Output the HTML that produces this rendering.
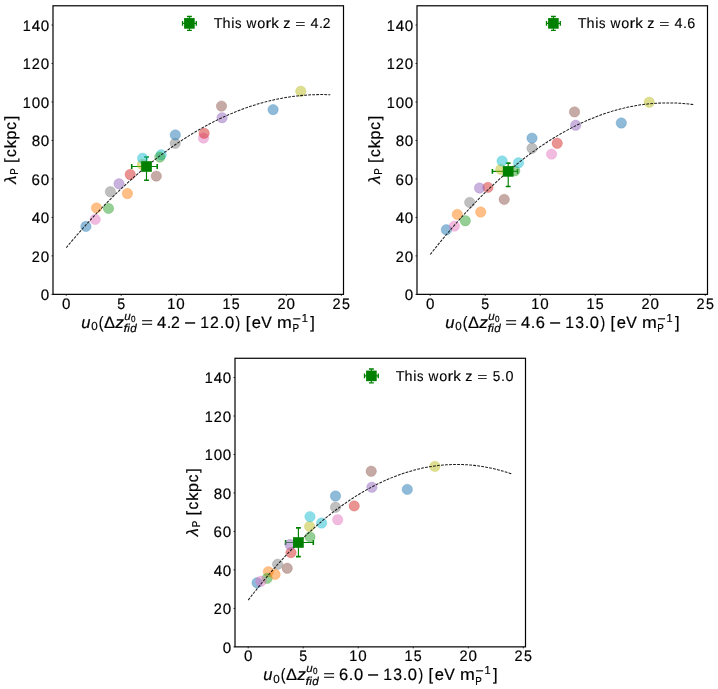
<!DOCTYPE html>
<html><head><meta charset="utf-8"><style>
html,body{margin:0;padding:0;background:#fff;}
svg{display:block;filter:blur(0.35px);}
</style></head><body>
<svg width="718" height="689" viewBox="0 0 718 689">
<rect width="718" height="689" fill="#fff"/>
<g stroke="#008000" fill="none"><path stroke-width="1.15" d="M131.7,166.5 H157.2 M146.5,157 V180.2"/><path stroke-width="1.6" d="M131.7,164.1 v4.8 M157.2,164.1 v4.8 M144.1,157 h4.8 M144.1,180.2 h4.8"/></g>
<circle cx="85.9" cy="226.4" r="5.2" fill="#1f77b4" fill-opacity="0.5" stroke="#1f77b4" stroke-opacity="0.5" stroke-width="0.5"/>
<circle cx="96.5" cy="207.9" r="5.2" fill="#ff7f0e" fill-opacity="0.5" stroke="#ff7f0e" stroke-opacity="0.5" stroke-width="0.5"/>
<circle cx="108.5" cy="208.4" r="5.2" fill="#2ca02c" fill-opacity="0.5" stroke="#2ca02c" stroke-opacity="0.5" stroke-width="0.5"/>
<circle cx="130.2" cy="174.5" r="5.2" fill="#d62728" fill-opacity="0.5" stroke="#d62728" stroke-opacity="0.5" stroke-width="0.5"/>
<circle cx="119" cy="183.8" r="5.2" fill="#9467bd" fill-opacity="0.5" stroke="#9467bd" stroke-opacity="0.5" stroke-width="0.5"/>
<circle cx="156.3" cy="176.1" r="5.2" fill="#8c564b" fill-opacity="0.5" stroke="#8c564b" stroke-opacity="0.5" stroke-width="0.5"/>
<circle cx="203.5" cy="138.1" r="5.2" fill="#e377c2" fill-opacity="0.5" stroke="#e377c2" stroke-opacity="0.5" stroke-width="0.5"/>
<circle cx="175.2" cy="143.4" r="5.2" fill="#7f7f7f" fill-opacity="0.5" stroke="#7f7f7f" stroke-opacity="0.5" stroke-width="0.5"/>
<circle cx="142.4" cy="164.5" r="5.2" fill="#bcbd22" fill-opacity="0.5" stroke="#bcbd22" stroke-opacity="0.5" stroke-width="0.5"/>
<circle cx="161.2" cy="154.8" r="5.2" fill="#17becf" fill-opacity="0.5" stroke="#17becf" stroke-opacity="0.5" stroke-width="0.5"/>
<circle cx="127.4" cy="193.5" r="5.2" fill="#ff7f0e" fill-opacity="0.5" stroke="#ff7f0e" stroke-opacity="0.5" stroke-width="0.5"/>
<circle cx="159.8" cy="157.1" r="5.2" fill="#2ca02c" fill-opacity="0.5" stroke="#2ca02c" stroke-opacity="0.5" stroke-width="0.5"/>
<circle cx="204.1" cy="133.2" r="5.2" fill="#d62728" fill-opacity="0.5" stroke="#d62728" stroke-opacity="0.5" stroke-width="0.5"/>
<circle cx="222.1" cy="117.7" r="5.2" fill="#9467bd" fill-opacity="0.5" stroke="#9467bd" stroke-opacity="0.5" stroke-width="0.5"/>
<circle cx="221.5" cy="106.1" r="5.2" fill="#8c564b" fill-opacity="0.5" stroke="#8c564b" stroke-opacity="0.5" stroke-width="0.5"/>
<circle cx="95.2" cy="219.4" r="5.2" fill="#e377c2" fill-opacity="0.5" stroke="#e377c2" stroke-opacity="0.5" stroke-width="0.5"/>
<circle cx="110.4" cy="191.7" r="5.2" fill="#7f7f7f" fill-opacity="0.5" stroke="#7f7f7f" stroke-opacity="0.5" stroke-width="0.5"/>
<circle cx="300.8" cy="91.3" r="5.2" fill="#bcbd22" fill-opacity="0.5" stroke="#bcbd22" stroke-opacity="0.5" stroke-width="0.5"/>
<circle cx="142.6" cy="158.3" r="5.2" fill="#17becf" fill-opacity="0.5" stroke="#17becf" stroke-opacity="0.5" stroke-width="0.5"/>
<circle cx="273.1" cy="109.6" r="5.2" fill="#1f77b4" fill-opacity="0.5" stroke="#1f77b4" stroke-opacity="0.5" stroke-width="0.5"/>
<circle cx="175.3" cy="134.9" r="5.2" fill="#1f77b4" fill-opacity="0.5" stroke="#1f77b4" stroke-opacity="0.5" stroke-width="0.5"/>
<path d="M66.2,247.72 L68.96,244.43 L71.71,241.18 L74.46,237.96 L77.21,234.78 L79.96,231.64 L82.71,228.53 L85.46,225.45 L88.21,222.42 L90.96,219.41 L93.71,216.45 L96.46,213.52 L99.22,210.62 L101.97,207.76 L104.72,204.94 L107.47,202.15 L110.22,199.4 L112.97,196.68 L115.72,194 L118.47,191.35 L121.22,188.74 L123.97,186.17 L126.73,183.63 L129.48,181.13 L132.23,178.66 L134.98,176.23 L137.73,173.83 L140.48,171.47 L143.23,169.15 L145.98,166.86 L148.73,164.6 L151.48,162.39 L154.23,160.21 L156.99,158.06 L159.74,155.95 L162.49,153.87 L165.24,151.83 L167.99,149.83 L170.74,147.86 L173.49,145.93 L176.24,144.04 L178.99,142.17 L181.74,140.35 L184.5,138.56 L187.25,136.81 L190,135.09 L192.75,133.41 L195.5,131.76 L198.25,130.15 L201,128.57 L203.75,127.03 L206.5,125.53 L209.25,124.06 L212,122.63 L214.76,121.23 L217.51,119.87 L220.26,118.55 L223.01,117.26 L225.76,116 L228.51,114.78 L231.26,113.6 L234.01,112.45 L236.76,111.34 L239.51,110.27 L242.27,109.23 L245.02,108.22 L247.77,107.25 L250.52,106.32 L253.27,105.42 L256.02,104.56 L258.77,103.73 L261.52,102.94 L264.27,102.19 L267.02,101.47 L269.77,100.79 L272.53,100.14 L275.28,99.53 L278.03,98.95 L280.78,98.41 L283.53,97.91 L286.28,97.44 L289.03,97 L291.78,96.61 L294.53,96.24 L297.28,95.92 L300.04,95.63 L302.79,95.37 L305.54,95.15 L308.29,94.97 L311.04,94.82 L313.79,94.71 L316.54,94.63 L319.29,94.59 L322.04,94.58 L324.79,94.61 L327.54,94.68 L330.3,94.78" fill="none" stroke="#1c1c1c" stroke-width="1.02" stroke-dasharray="2.82 1.21"/>
<rect x="141.15" y="161.2" width="10.7" height="10.6" fill="#008000"/>
<rect x="53" y="5.78" width="290.5" height="288.58" fill="none" stroke="#000" stroke-width="1.2"/>
<path d="M51.5,294.36 H53" stroke="#000" stroke-width="0.8"/>
<path d="M51.5,255.88 H53" stroke="#000" stroke-width="0.8"/>
<path d="M51.5,217.41 H53" stroke="#000" stroke-width="0.8"/>
<path d="M51.5,178.93 H53" stroke="#000" stroke-width="0.8"/>
<path d="M51.5,140.45 H53" stroke="#000" stroke-width="0.8"/>
<path d="M51.5,101.97 H53" stroke="#000" stroke-width="0.8"/>
<path d="M51.5,63.5 H53" stroke="#000" stroke-width="0.8"/>
<path d="M51.5,25.02 H53" stroke="#000" stroke-width="0.8"/>
<path d="M66.2,294.36 V295.86" stroke="#000" stroke-width="0.8"/>
<path d="M121.22,294.36 V295.86" stroke="#000" stroke-width="0.8"/>
<path d="M176.24,294.36 V295.86" stroke="#000" stroke-width="0.8"/>
<path d="M231.26,294.36 V295.86" stroke="#000" stroke-width="0.8"/>
<path d="M286.28,294.36 V295.86" stroke="#000" stroke-width="0.8"/>
<path d="M341.3,294.36 V295.86" stroke="#000" stroke-width="0.8"/>
<g stroke="#008000" fill="none"><path stroke-width="1.1" d="M182.5,23.38 H196.3 M189.4,16.48 V30.28"/><path stroke-width="1.3" d="M182.5,20.93 v4.9 M196.3,20.93 v4.9 M186.95,16.48 h4.9 M186.95,30.28 h4.9"/></g>
<rect x="184.1" y="18.08" width="10.6" height="10.6" fill="#008000"/>
<g font-family="Liberation Sans, sans-serif" fill="#000" stroke="#000" stroke-width="0.2" text-rendering="geometricPrecision"><text x="40.81" y="300.06" font-size="15.15">0</text>
<text transform="matrix(0.959 0 0 1.000 31.67 261.58)" font-size="15.15">2</text>
<text x="40.81" y="261.58" font-size="15.15">0</text>
<text x="31.71" y="223.11" font-size="15.15">4</text>
<text x="40.81" y="223.11" font-size="15.15">0</text>
<text x="31.56" y="184.63" font-size="15.15">6</text>
<text x="40.81" y="184.63" font-size="15.15">0</text>
<text x="31.66" y="146.15" font-size="15.15">8</text>
<text x="40.81" y="146.15" font-size="15.15">0</text>
<text transform="matrix(0.950 0 0 1.000 22.73 107.67)" font-size="15.15">1</text>
<text x="31.71" y="107.67" font-size="15.15">0</text>
<text x="40.81" y="107.67" font-size="15.15">0</text>
<text transform="matrix(0.950 0 0 1.000 22.73 69.2)" font-size="15.15">1</text>
<text transform="matrix(0.959 0 0 1.000 31.67 69.2)" font-size="15.15">2</text>
<text x="40.81" y="69.2" font-size="15.15">0</text>
<text transform="matrix(0.950 0 0 1.000 22.73 30.72)" font-size="15.15">1</text>
<text x="31.71" y="30.72" font-size="15.15">4</text>
<text x="40.81" y="30.72" font-size="15.15">0</text>
<text x="62.01" y="308.51" font-size="15.15">0</text>
<text transform="matrix(0.939 0 0 1.000 117.28 308.51)" font-size="15.15">5</text>
<text transform="matrix(0.950 0 0 1.000 167.31 308.51)" font-size="15.15">1</text>
<text x="176.29" y="308.51" font-size="15.15">0</text>
<text transform="matrix(0.950 0 0 1.000 222.48 308.51)" font-size="15.15">1</text>
<text transform="matrix(0.939 0 0 1.000 231.63 308.51)" font-size="15.15">5</text>
<text transform="matrix(0.959 0 0 1.000 277.45 308.51)" font-size="15.15">2</text>
<text x="286.59" y="308.51" font-size="15.15">0</text>
<text transform="matrix(0.959 0 0 1.000 332.62 308.51)" font-size="15.15">2</text>
<text transform="matrix(0.939 0 0 1.000 341.93 308.51)" font-size="15.15">5</text>
<g stroke-width="0.12"><text x="213.67" y="28.38" font-size="14.36">T</text>
<text x="222.53" y="28.38" font-size="14.36">h</text>
<text x="231.25" y="28.38" font-size="14.36">i</text>
<text transform="matrix(0.905 0 0 1.000 235.04 28.38)" font-size="14.36">s</text>
<text transform="matrix(0.954 0 0 1.000 246.62 28.38)" font-size="14.36">w</text>
<text x="257.26" y="28.38" font-size="14.36">o</text>
<text transform="matrix(1.209 0 0 1.000 265.49 28.38)" font-size="14.36">r</text>
<text transform="matrix(1.055 0 0 1.000 271.19 28.38)" font-size="14.36">k</text>
<text x="283.13" y="28.38" font-size="14.36">z</text>
<text transform="matrix(1.216 0 0 0.827 295.14 28.04)" font-size="14.36">=</text>
<text x="310.55" y="28.38" font-size="14.36">4</text>
<text x="318.94" y="28.38" font-size="14.36">.</text>
<text transform="matrix(0.959 0 0 1.000 322.7 28.38)" font-size="14.36">2</text></g>
<text x="81.29" y="327.81" font-size="16.53" font-style="italic">u</text>
<text x="91.26" y="330.37" font-size="11.57">0</text>
<text transform="matrix(0.850 0 0 1.000 98.72 327.81)" font-size="16.53">(</text>
<text x="104.06" y="327.81" font-size="16.53">Δ</text>
<text transform="matrix(1.047 0 0 1.000 115.17 327.81)" font-size="16.53" font-style="italic">z</text>
<text x="124.13" y="319.93" font-size="11.57" font-style="italic">u</text>
<text transform="matrix(0.904 0 0 1.000 131.11 321.72)" font-size="8.91">0</text>
<text transform="matrix(1.171 0 0 1.000 123.59 332.07)" font-size="11.57" font-style="italic">f</text>
<text x="127.35" y="332.07" font-size="11.57" font-style="italic">i</text>
<text x="130.29" y="332.07" font-size="11.57" font-style="italic">d</text>
<text transform="matrix(1.216 0 0 0.827 141.25 327.42)" font-size="16.53">=</text>
<text x="157.08" y="327.81" font-size="16.53">4</text>
<text x="166.75" y="327.81" font-size="16.53">.</text>
<text transform="matrix(0.959 0 0 1.000 171.07 327.81)" font-size="16.53">2</text>
<text transform="matrix(1.216 0 0 1.099 184.35 328.96)" font-size="16.53">−</text>
<text transform="matrix(0.950 0 0 1.000 200.31 327.81)" font-size="16.53">1</text>
<text transform="matrix(0.959 0 0 1.000 210.07 327.81)" font-size="16.53">2</text>
<text x="219.77" y="327.81" font-size="16.53">.</text>
<text x="224.99" y="327.81" font-size="16.53">0</text>
<text transform="matrix(0.850 0 0 1.000 235.58 327.81)" font-size="16.53">)</text>
<text x="245.76" y="327.81" font-size="16.53">[</text>
<text x="251.8" y="327.81" font-size="16.53">e</text>
<text transform="matrix(0.958 0 0 1.000 261.31 327.81)" font-size="16.53">V</text>
<text transform="matrix(1.075 0 0 1.000 277.12 327.81)" font-size="16.53">m</text>
<text transform="matrix(1.216 0 0 1.099 292.7 322.64)" font-size="11.57">−</text>
<text transform="matrix(0.950 0 0 1.000 301.75 321.84)" font-size="11.57">1</text>
<text transform="matrix(0.850 0 0 1.000 292.45 332.07)" font-size="11.57">P</text>
<text x="310.15" y="327.81" font-size="16.53">]</text>
<g transform="translate(15.9,184.62) rotate(-90)"><text x="0.77" y="0" font-size="16.26" font-style="italic">λ</text>
<text transform="matrix(0.850 0 0 1.000 9.97 2.52)" font-size="11.39">P</text>
<text x="21.72" y="0" font-size="16.26">[</text>
<text transform="matrix(0.947 0 0 1.000 27.72 0)" font-size="16.26">c</text>
<text transform="matrix(1.055 0 0 1.000 36.2 0)" font-size="16.26">k</text>
<text x="45.17" y="0" font-size="16.26">p</text>
<text transform="matrix(0.947 0 0 1.000 54.79 0)" font-size="16.26">c</text>
<text x="64.4" y="0" font-size="16.26">]</text></g></g>
<g stroke="#008000" fill="none"><path stroke-width="1.15" d="M492.4,171.4 H517.5 M508.2,163.1 V186.5"/><path stroke-width="1.6" d="M492.4,169 v4.8 M517.5,169 v4.8 M505.8,163.1 h4.8 M505.8,186.5 h4.8"/></g>
<circle cx="446.4" cy="229.7" r="5.2" fill="#1f77b4" fill-opacity="0.5" stroke="#1f77b4" stroke-opacity="0.5" stroke-width="0.5"/>
<circle cx="457.3" cy="214.4" r="5.2" fill="#ff7f0e" fill-opacity="0.5" stroke="#ff7f0e" stroke-opacity="0.5" stroke-width="0.5"/>
<circle cx="465.3" cy="220.7" r="5.2" fill="#2ca02c" fill-opacity="0.5" stroke="#2ca02c" stroke-opacity="0.5" stroke-width="0.5"/>
<circle cx="487.9" cy="187.4" r="5.2" fill="#d62728" fill-opacity="0.5" stroke="#d62728" stroke-opacity="0.5" stroke-width="0.5"/>
<circle cx="479.5" cy="188" r="5.2" fill="#9467bd" fill-opacity="0.5" stroke="#9467bd" stroke-opacity="0.5" stroke-width="0.5"/>
<circle cx="504.2" cy="199.4" r="5.2" fill="#8c564b" fill-opacity="0.5" stroke="#8c564b" stroke-opacity="0.5" stroke-width="0.5"/>
<circle cx="454.4" cy="226.1" r="5.2" fill="#e377c2" fill-opacity="0.5" stroke="#e377c2" stroke-opacity="0.5" stroke-width="0.5"/>
<circle cx="469.7" cy="202.4" r="5.2" fill="#7f7f7f" fill-opacity="0.5" stroke="#7f7f7f" stroke-opacity="0.5" stroke-width="0.5"/>
<circle cx="500.8" cy="169.4" r="5.2" fill="#bcbd22" fill-opacity="0.5" stroke="#bcbd22" stroke-opacity="0.5" stroke-width="0.5"/>
<circle cx="502.1" cy="160.9" r="5.2" fill="#17becf" fill-opacity="0.5" stroke="#17becf" stroke-opacity="0.5" stroke-width="0.5"/>
<circle cx="532" cy="138.1" r="5.2" fill="#1f77b4" fill-opacity="0.5" stroke="#1f77b4" stroke-opacity="0.5" stroke-width="0.5"/>
<circle cx="480.7" cy="212" r="5.2" fill="#ff7f0e" fill-opacity="0.5" stroke="#ff7f0e" stroke-opacity="0.5" stroke-width="0.5"/>
<circle cx="514.8" cy="170.8" r="5.2" fill="#2ca02c" fill-opacity="0.5" stroke="#2ca02c" stroke-opacity="0.5" stroke-width="0.5"/>
<circle cx="557.2" cy="143.3" r="5.2" fill="#d62728" fill-opacity="0.5" stroke="#d62728" stroke-opacity="0.5" stroke-width="0.5"/>
<circle cx="575.7" cy="125.2" r="5.2" fill="#9467bd" fill-opacity="0.5" stroke="#9467bd" stroke-opacity="0.5" stroke-width="0.5"/>
<circle cx="574.5" cy="111.9" r="5.2" fill="#8c564b" fill-opacity="0.5" stroke="#8c564b" stroke-opacity="0.5" stroke-width="0.5"/>
<circle cx="551.6" cy="154.1" r="5.2" fill="#e377c2" fill-opacity="0.5" stroke="#e377c2" stroke-opacity="0.5" stroke-width="0.5"/>
<circle cx="532" cy="148.3" r="5.2" fill="#7f7f7f" fill-opacity="0.5" stroke="#7f7f7f" stroke-opacity="0.5" stroke-width="0.5"/>
<circle cx="649.2" cy="102.3" r="5.2" fill="#bcbd22" fill-opacity="0.5" stroke="#bcbd22" stroke-opacity="0.5" stroke-width="0.5"/>
<circle cx="518.5" cy="162.8" r="5.2" fill="#17becf" fill-opacity="0.5" stroke="#17becf" stroke-opacity="0.5" stroke-width="0.5"/>
<circle cx="621.3" cy="123" r="5.2" fill="#1f77b4" fill-opacity="0.5" stroke="#1f77b4" stroke-opacity="0.5" stroke-width="0.5"/>
<path d="M430.2,254.53 L432.96,251.04 L435.71,247.6 L438.46,244.19 L441.21,240.82 L443.96,237.5 L446.71,234.21 L449.46,230.97 L452.21,227.77 L454.96,224.6 L457.71,221.48 L460.46,218.4 L463.22,215.36 L465.97,212.35 L468.72,209.39 L471.47,206.47 L474.22,203.6 L476.97,200.76 L479.72,197.96 L482.47,195.2 L485.22,192.48 L487.97,189.81 L490.73,187.17 L493.48,184.58 L496.23,182.02 L498.98,179.51 L501.73,177.03 L504.48,174.6 L507.23,172.21 L509.98,169.86 L512.73,167.55 L515.48,165.28 L518.23,163.05 L520.99,160.86 L523.74,158.71 L526.49,156.6 L529.24,154.53 L531.99,152.51 L534.74,150.52 L537.49,148.57 L540.24,146.67 L542.99,144.8 L545.74,142.98 L548.5,141.2 L551.25,139.45 L554,137.75 L556.75,136.09 L559.5,134.47 L562.25,132.89 L565,131.35 L567.75,129.85 L570.5,128.39 L573.25,126.97 L576,125.59 L578.76,124.25 L581.51,122.96 L584.26,121.7 L587.01,120.49 L589.76,119.31 L592.51,118.18 L595.26,117.08 L598.01,116.03 L600.76,115.02 L603.51,114.05 L606.27,113.11 L609.02,112.22 L611.77,111.37 L614.52,110.56 L617.27,109.8 L620.02,109.07 L622.77,108.38 L625.52,107.73 L628.27,107.12 L631.02,106.56 L633.77,106.03 L636.53,105.55 L639.28,105.1 L642.03,104.7 L644.78,104.34 L647.53,104.01 L650.28,103.73 L653.03,103.49 L655.78,103.29 L658.53,103.13 L661.28,103.01 L664.04,102.93 L666.79,102.89 L669.54,102.89 L672.29,102.94 L675.04,103.02 L677.79,103.14 L680.54,103.31 L683.29,103.51 L686.04,103.76 L688.79,104.04 L691.54,104.37 L694.3,104.74" fill="none" stroke="#1c1c1c" stroke-width="1.02" stroke-dasharray="2.82 1.21"/>
<rect x="502.85" y="166.1" width="10.7" height="10.6" fill="#008000"/>
<rect x="417" y="5.78" width="290.5" height="288.58" fill="none" stroke="#000" stroke-width="1.2"/>
<path d="M415.5,294.36 H417" stroke="#000" stroke-width="0.8"/>
<path d="M415.5,255.88 H417" stroke="#000" stroke-width="0.8"/>
<path d="M415.5,217.41 H417" stroke="#000" stroke-width="0.8"/>
<path d="M415.5,178.93 H417" stroke="#000" stroke-width="0.8"/>
<path d="M415.5,140.45 H417" stroke="#000" stroke-width="0.8"/>
<path d="M415.5,101.97 H417" stroke="#000" stroke-width="0.8"/>
<path d="M415.5,63.5 H417" stroke="#000" stroke-width="0.8"/>
<path d="M415.5,25.02 H417" stroke="#000" stroke-width="0.8"/>
<path d="M430.2,294.36 V295.86" stroke="#000" stroke-width="0.8"/>
<path d="M485.22,294.36 V295.86" stroke="#000" stroke-width="0.8"/>
<path d="M540.24,294.36 V295.86" stroke="#000" stroke-width="0.8"/>
<path d="M595.26,294.36 V295.86" stroke="#000" stroke-width="0.8"/>
<path d="M650.28,294.36 V295.86" stroke="#000" stroke-width="0.8"/>
<path d="M705.3,294.36 V295.86" stroke="#000" stroke-width="0.8"/>
<g stroke="#008000" fill="none"><path stroke-width="1.1" d="M546.5,23.38 H560.3 M553.4,16.48 V30.28"/><path stroke-width="1.3" d="M546.5,20.93 v4.9 M560.3,20.93 v4.9 M550.95,16.48 h4.9 M550.95,30.28 h4.9"/></g>
<rect x="548.1" y="18.08" width="10.6" height="10.6" fill="#008000"/>
<g font-family="Liberation Sans, sans-serif" fill="#000" stroke="#000" stroke-width="0.2" text-rendering="geometricPrecision"><text x="404.81" y="300.06" font-size="15.15">0</text>
<text transform="matrix(0.959 0 0 1.000 395.67 261.58)" font-size="15.15">2</text>
<text x="404.81" y="261.58" font-size="15.15">0</text>
<text x="395.71" y="223.11" font-size="15.15">4</text>
<text x="404.81" y="223.11" font-size="15.15">0</text>
<text x="395.56" y="184.63" font-size="15.15">6</text>
<text x="404.81" y="184.63" font-size="15.15">0</text>
<text x="395.66" y="146.15" font-size="15.15">8</text>
<text x="404.81" y="146.15" font-size="15.15">0</text>
<text transform="matrix(0.950 0 0 1.000 386.73 107.67)" font-size="15.15">1</text>
<text x="395.71" y="107.67" font-size="15.15">0</text>
<text x="404.81" y="107.67" font-size="15.15">0</text>
<text transform="matrix(0.950 0 0 1.000 386.73 69.2)" font-size="15.15">1</text>
<text transform="matrix(0.959 0 0 1.000 395.67 69.2)" font-size="15.15">2</text>
<text x="404.81" y="69.2" font-size="15.15">0</text>
<text transform="matrix(0.950 0 0 1.000 386.73 30.72)" font-size="15.15">1</text>
<text x="395.71" y="30.72" font-size="15.15">4</text>
<text x="404.81" y="30.72" font-size="15.15">0</text>
<text x="426.01" y="308.51" font-size="15.15">0</text>
<text transform="matrix(0.939 0 0 1.000 481.28 308.51)" font-size="15.15">5</text>
<text transform="matrix(0.950 0 0 1.000 531.31 308.51)" font-size="15.15">1</text>
<text x="540.29" y="308.51" font-size="15.15">0</text>
<text transform="matrix(0.950 0 0 1.000 586.48 308.51)" font-size="15.15">1</text>
<text transform="matrix(0.939 0 0 1.000 595.63 308.51)" font-size="15.15">5</text>
<text transform="matrix(0.959 0 0 1.000 641.45 308.51)" font-size="15.15">2</text>
<text x="650.59" y="308.51" font-size="15.15">0</text>
<text transform="matrix(0.959 0 0 1.000 696.62 308.51)" font-size="15.15">2</text>
<text transform="matrix(0.939 0 0 1.000 705.93 308.51)" font-size="15.15">5</text>
<g stroke-width="0.12"><text x="577.67" y="28.38" font-size="14.36">T</text>
<text x="586.53" y="28.38" font-size="14.36">h</text>
<text x="595.25" y="28.38" font-size="14.36">i</text>
<text transform="matrix(0.905 0 0 1.000 599.04 28.38)" font-size="14.36">s</text>
<text transform="matrix(0.954 0 0 1.000 610.62 28.38)" font-size="14.36">w</text>
<text x="621.26" y="28.38" font-size="14.36">o</text>
<text transform="matrix(1.209 0 0 1.000 629.49 28.38)" font-size="14.36">r</text>
<text transform="matrix(1.055 0 0 1.000 635.19 28.38)" font-size="14.36">k</text>
<text x="647.13" y="28.38" font-size="14.36">z</text>
<text transform="matrix(1.216 0 0 0.827 659.14 28.04)" font-size="14.36">=</text>
<text x="674.55" y="28.38" font-size="14.36">4</text>
<text x="682.94" y="28.38" font-size="14.36">.</text>
<text x="687.34" y="28.38" font-size="14.36">6</text></g>
<text x="445.29" y="327.81" font-size="16.53" font-style="italic">u</text>
<text x="455.26" y="330.37" font-size="11.57">0</text>
<text transform="matrix(0.850 0 0 1.000 462.72 327.81)" font-size="16.53">(</text>
<text x="468.06" y="327.81" font-size="16.53">Δ</text>
<text transform="matrix(1.047 0 0 1.000 479.17 327.81)" font-size="16.53" font-style="italic">z</text>
<text x="488.13" y="319.93" font-size="11.57" font-style="italic">u</text>
<text transform="matrix(0.904 0 0 1.000 495.11 321.72)" font-size="8.91">0</text>
<text transform="matrix(1.171 0 0 1.000 487.59 332.07)" font-size="11.57" font-style="italic">f</text>
<text x="491.35" y="332.07" font-size="11.57" font-style="italic">i</text>
<text x="494.29" y="332.07" font-size="11.57" font-style="italic">d</text>
<text transform="matrix(1.216 0 0 0.827 505.25 327.42)" font-size="16.53">=</text>
<text x="521.08" y="327.81" font-size="16.53">4</text>
<text x="530.75" y="327.81" font-size="16.53">.</text>
<text x="535.8" y="327.81" font-size="16.53">6</text>
<text transform="matrix(1.216 0 0 1.099 549.2 328.96)" font-size="16.53">−</text>
<text transform="matrix(0.950 0 0 1.000 565.17 327.81)" font-size="16.53">1</text>
<text transform="matrix(0.955 0 0 1.000 575.16 327.81)" font-size="16.53">3</text>
<text x="584.63" y="327.81" font-size="16.53">.</text>
<text x="589.85" y="327.81" font-size="16.53">0</text>
<text transform="matrix(0.850 0 0 1.000 600.44 327.81)" font-size="16.53">)</text>
<text x="610.61" y="327.81" font-size="16.53">[</text>
<text x="616.66" y="327.81" font-size="16.53">e</text>
<text transform="matrix(0.958 0 0 1.000 626.17 327.81)" font-size="16.53">V</text>
<text transform="matrix(1.075 0 0 1.000 641.98 327.81)" font-size="16.53">m</text>
<text transform="matrix(1.216 0 0 1.099 657.55 322.64)" font-size="11.57">−</text>
<text transform="matrix(0.950 0 0 1.000 666.6 321.84)" font-size="11.57">1</text>
<text transform="matrix(0.850 0 0 1.000 657.31 332.07)" font-size="11.57">P</text>
<text x="675" y="327.81" font-size="16.53">]</text>
<g transform="translate(379.9,184.62) rotate(-90)"><text x="0.77" y="0" font-size="16.26" font-style="italic">λ</text>
<text transform="matrix(0.850 0 0 1.000 9.97 2.52)" font-size="11.39">P</text>
<text x="21.72" y="0" font-size="16.26">[</text>
<text transform="matrix(0.947 0 0 1.000 27.72 0)" font-size="16.26">c</text>
<text transform="matrix(1.055 0 0 1.000 36.2 0)" font-size="16.26">k</text>
<text x="45.17" y="0" font-size="16.26">p</text>
<text transform="matrix(0.947 0 0 1.000 54.79 0)" font-size="16.26">c</text>
<text x="64.4" y="0" font-size="16.26">]</text></g></g>
<g stroke="#008000" fill="none"><path stroke-width="1.15" d="M285.6,542.5 H313.3 M298.4,527.9 V556.6"/><path stroke-width="1.6" d="M285.6,540.1 v4.8 M313.3,540.1 v4.8 M296,527.9 h4.8 M296,556.6 h4.8"/></g>
<circle cx="257.1" cy="582.8" r="5.2" fill="#1f77b4" fill-opacity="0.5" stroke="#1f77b4" stroke-opacity="0.5" stroke-width="0.5"/>
<circle cx="268.4" cy="571.7" r="5.2" fill="#ff7f0e" fill-opacity="0.5" stroke="#ff7f0e" stroke-opacity="0.5" stroke-width="0.5"/>
<circle cx="267.1" cy="578.4" r="5.2" fill="#2ca02c" fill-opacity="0.5" stroke="#2ca02c" stroke-opacity="0.5" stroke-width="0.5"/>
<circle cx="291" cy="552.6" r="5.2" fill="#d62728" fill-opacity="0.5" stroke="#d62728" stroke-opacity="0.5" stroke-width="0.5"/>
<circle cx="290" cy="544.5" r="5.2" fill="#9467bd" fill-opacity="0.5" stroke="#9467bd" stroke-opacity="0.5" stroke-width="0.5"/>
<circle cx="287.2" cy="568.2" r="5.2" fill="#8c564b" fill-opacity="0.5" stroke="#8c564b" stroke-opacity="0.5" stroke-width="0.5"/>
<circle cx="260.9" cy="581.3" r="5.2" fill="#e377c2" fill-opacity="0.5" stroke="#e377c2" stroke-opacity="0.5" stroke-width="0.5"/>
<circle cx="277.6" cy="564.2" r="5.2" fill="#7f7f7f" fill-opacity="0.5" stroke="#7f7f7f" stroke-opacity="0.5" stroke-width="0.5"/>
<circle cx="309.6" cy="526.4" r="5.2" fill="#bcbd22" fill-opacity="0.5" stroke="#bcbd22" stroke-opacity="0.5" stroke-width="0.5"/>
<circle cx="310" cy="516.6" r="5.2" fill="#17becf" fill-opacity="0.5" stroke="#17becf" stroke-opacity="0.5" stroke-width="0.5"/>
<circle cx="335.5" cy="496" r="5.2" fill="#1f77b4" fill-opacity="0.5" stroke="#1f77b4" stroke-opacity="0.5" stroke-width="0.5"/>
<circle cx="275.1" cy="574.4" r="5.2" fill="#ff7f0e" fill-opacity="0.5" stroke="#ff7f0e" stroke-opacity="0.5" stroke-width="0.5"/>
<circle cx="310" cy="536.9" r="5.2" fill="#2ca02c" fill-opacity="0.5" stroke="#2ca02c" stroke-opacity="0.5" stroke-width="0.5"/>
<circle cx="354.2" cy="505.9" r="5.2" fill="#d62728" fill-opacity="0.5" stroke="#d62728" stroke-opacity="0.5" stroke-width="0.5"/>
<circle cx="371.9" cy="487.2" r="5.2" fill="#9467bd" fill-opacity="0.5" stroke="#9467bd" stroke-opacity="0.5" stroke-width="0.5"/>
<circle cx="371.2" cy="471.2" r="5.2" fill="#8c564b" fill-opacity="0.5" stroke="#8c564b" stroke-opacity="0.5" stroke-width="0.5"/>
<circle cx="337.7" cy="519.7" r="5.2" fill="#e377c2" fill-opacity="0.5" stroke="#e377c2" stroke-opacity="0.5" stroke-width="0.5"/>
<circle cx="335.5" cy="507.3" r="5.2" fill="#7f7f7f" fill-opacity="0.5" stroke="#7f7f7f" stroke-opacity="0.5" stroke-width="0.5"/>
<circle cx="434.9" cy="466.4" r="5.2" fill="#bcbd22" fill-opacity="0.5" stroke="#bcbd22" stroke-opacity="0.5" stroke-width="0.5"/>
<circle cx="321.6" cy="523" r="5.2" fill="#17becf" fill-opacity="0.5" stroke="#17becf" stroke-opacity="0.5" stroke-width="0.5"/>
<circle cx="407.3" cy="489.4" r="5.2" fill="#1f77b4" fill-opacity="0.5" stroke="#1f77b4" stroke-opacity="0.5" stroke-width="0.5"/>
<path d="M248.2,600.08 L250.96,596.53 L253.71,593.02 L256.46,589.56 L259.21,586.15 L261.96,582.78 L264.71,579.47 L267.46,576.2 L270.21,572.97 L272.96,569.8 L275.71,566.67 L278.46,563.58 L281.22,560.55 L283.97,557.56 L286.72,554.62 L289.47,551.73 L292.22,548.88 L294.97,546.08 L297.72,543.33 L300.47,540.63 L303.22,537.97 L305.97,535.36 L308.73,532.8 L311.48,530.28 L314.23,527.81 L316.98,525.39 L319.73,523.02 L322.48,520.69 L325.23,518.41 L327.98,516.18 L330.73,513.99 L333.48,511.85 L336.23,509.76 L338.99,507.72 L341.74,505.72 L344.49,503.77 L347.24,501.87 L349.99,500.01 L352.74,498.21 L355.49,496.44 L358.24,494.73 L360.99,493.06 L363.74,491.45 L366.5,489.87 L369.25,488.35 L372,486.87 L374.75,485.44 L377.5,484.06 L380.25,482.72 L383,481.43 L385.75,480.19 L388.5,479 L391.25,477.85 L394,476.75 L396.76,475.7 L399.51,474.69 L402.26,473.73 L405.01,472.82 L407.76,471.95 L410.51,471.14 L413.26,470.37 L416.01,469.65 L418.76,468.97 L421.51,468.34 L424.27,467.76 L427.02,467.23 L429.77,466.74 L432.52,466.3 L435.27,465.91 L438.02,465.56 L440.77,465.26 L443.52,465.01 L446.27,464.81 L449.02,464.65 L451.77,464.54 L454.53,464.48 L457.28,464.47 L460.03,464.5 L462.78,464.58 L465.53,464.7 L468.28,464.88 L471.03,465.1 L473.78,465.37 L476.53,465.68 L479.28,466.05 L482.04,466.46 L484.79,466.91 L487.54,467.42 L490.29,467.97 L493.04,468.57 L495.79,469.21 L498.54,469.9 L501.29,470.64 L504.04,471.43 L506.79,472.27 L509.54,473.15 L512.3,474.08" fill="none" stroke="#1c1c1c" stroke-width="1.02" stroke-dasharray="2.82 1.21"/>
<rect x="293.05" y="537.2" width="10.7" height="10.6" fill="#008000"/>
<rect x="235" y="358.28" width="290.5" height="288.58" fill="none" stroke="#000" stroke-width="1.2"/>
<path d="M233.5,646.86 H235" stroke="#000" stroke-width="0.8"/>
<path d="M233.5,608.38 H235" stroke="#000" stroke-width="0.8"/>
<path d="M233.5,569.91 H235" stroke="#000" stroke-width="0.8"/>
<path d="M233.5,531.43 H235" stroke="#000" stroke-width="0.8"/>
<path d="M233.5,492.95 H235" stroke="#000" stroke-width="0.8"/>
<path d="M233.5,454.47 H235" stroke="#000" stroke-width="0.8"/>
<path d="M233.5,416 H235" stroke="#000" stroke-width="0.8"/>
<path d="M233.5,377.52 H235" stroke="#000" stroke-width="0.8"/>
<path d="M248.2,646.86 V648.36" stroke="#000" stroke-width="0.8"/>
<path d="M303.22,646.86 V648.36" stroke="#000" stroke-width="0.8"/>
<path d="M358.24,646.86 V648.36" stroke="#000" stroke-width="0.8"/>
<path d="M413.26,646.86 V648.36" stroke="#000" stroke-width="0.8"/>
<path d="M468.28,646.86 V648.36" stroke="#000" stroke-width="0.8"/>
<path d="M523.3,646.86 V648.36" stroke="#000" stroke-width="0.8"/>
<g stroke="#008000" fill="none"><path stroke-width="1.1" d="M364.5,375.88 H378.3 M371.4,368.98 V382.78"/><path stroke-width="1.3" d="M364.5,373.43 v4.9 M378.3,373.43 v4.9 M368.95,368.98 h4.9 M368.95,382.78 h4.9"/></g>
<rect x="366.1" y="370.58" width="10.6" height="10.6" fill="#008000"/>
<g font-family="Liberation Sans, sans-serif" fill="#000" stroke="#000" stroke-width="0.2" text-rendering="geometricPrecision"><text x="222.81" y="652.56" font-size="15.15">0</text>
<text transform="matrix(0.959 0 0 1.000 213.67 614.08)" font-size="15.15">2</text>
<text x="222.81" y="614.08" font-size="15.15">0</text>
<text x="213.71" y="575.61" font-size="15.15">4</text>
<text x="222.81" y="575.61" font-size="15.15">0</text>
<text x="213.56" y="537.13" font-size="15.15">6</text>
<text x="222.81" y="537.13" font-size="15.15">0</text>
<text x="213.66" y="498.65" font-size="15.15">8</text>
<text x="222.81" y="498.65" font-size="15.15">0</text>
<text transform="matrix(0.950 0 0 1.000 204.73 460.17)" font-size="15.15">1</text>
<text x="213.71" y="460.17" font-size="15.15">0</text>
<text x="222.81" y="460.17" font-size="15.15">0</text>
<text transform="matrix(0.950 0 0 1.000 204.73 421.7)" font-size="15.15">1</text>
<text transform="matrix(0.959 0 0 1.000 213.67 421.7)" font-size="15.15">2</text>
<text x="222.81" y="421.7" font-size="15.15">0</text>
<text transform="matrix(0.950 0 0 1.000 204.73 383.22)" font-size="15.15">1</text>
<text x="213.71" y="383.22" font-size="15.15">4</text>
<text x="222.81" y="383.22" font-size="15.15">0</text>
<text x="244.01" y="661.01" font-size="15.15">0</text>
<text transform="matrix(0.939 0 0 1.000 299.28 661.01)" font-size="15.15">5</text>
<text transform="matrix(0.950 0 0 1.000 349.31 661.01)" font-size="15.15">1</text>
<text x="358.29" y="661.01" font-size="15.15">0</text>
<text transform="matrix(0.950 0 0 1.000 404.48 661.01)" font-size="15.15">1</text>
<text transform="matrix(0.939 0 0 1.000 413.63 661.01)" font-size="15.15">5</text>
<text transform="matrix(0.959 0 0 1.000 459.45 661.01)" font-size="15.15">2</text>
<text x="468.59" y="661.01" font-size="15.15">0</text>
<text transform="matrix(0.959 0 0 1.000 514.62 661.01)" font-size="15.15">2</text>
<text transform="matrix(0.939 0 0 1.000 523.93 661.01)" font-size="15.15">5</text>
<g stroke-width="0.12"><text x="395.67" y="380.88" font-size="14.36">T</text>
<text x="404.53" y="380.88" font-size="14.36">h</text>
<text x="413.25" y="380.88" font-size="14.36">i</text>
<text transform="matrix(0.905 0 0 1.000 417.04 380.88)" font-size="14.36">s</text>
<text transform="matrix(0.954 0 0 1.000 428.62 380.88)" font-size="14.36">w</text>
<text x="439.26" y="380.88" font-size="14.36">o</text>
<text transform="matrix(1.209 0 0 1.000 447.49 380.88)" font-size="14.36">r</text>
<text transform="matrix(1.055 0 0 1.000 453.19 380.88)" font-size="14.36">k</text>
<text x="465.13" y="380.88" font-size="14.36">z</text>
<text transform="matrix(1.216 0 0 0.827 477.14 380.54)" font-size="14.36">=</text>
<text transform="matrix(0.939 0 0 1.000 492.72 380.88)" font-size="14.36">5</text>
<text x="500.94" y="380.88" font-size="14.36">.</text>
<text x="505.48" y="380.88" font-size="14.36">0</text></g>
<text x="263.29" y="680.31" font-size="16.53" font-style="italic">u</text>
<text x="273.26" y="682.87" font-size="11.57">0</text>
<text transform="matrix(0.850 0 0 1.000 280.72 680.31)" font-size="16.53">(</text>
<text x="286.06" y="680.31" font-size="16.53">Δ</text>
<text transform="matrix(1.047 0 0 1.000 297.17 680.31)" font-size="16.53" font-style="italic">z</text>
<text x="306.13" y="672.43" font-size="11.57" font-style="italic">u</text>
<text transform="matrix(0.904 0 0 1.000 313.11 674.22)" font-size="8.91">0</text>
<text transform="matrix(1.171 0 0 1.000 305.59 684.57)" font-size="11.57" font-style="italic">f</text>
<text x="309.35" y="684.57" font-size="11.57" font-style="italic">i</text>
<text x="312.29" y="684.57" font-size="11.57" font-style="italic">d</text>
<text transform="matrix(1.216 0 0 0.827 323.25 679.92)" font-size="16.53">=</text>
<text x="338.92" y="680.31" font-size="16.53">6</text>
<text x="348.75" y="680.31" font-size="16.53">.</text>
<text x="353.96" y="680.31" font-size="16.53">0</text>
<text transform="matrix(1.216 0 0 1.099 367.2 681.46)" font-size="16.53">−</text>
<text transform="matrix(0.950 0 0 1.000 383.17 680.31)" font-size="16.53">1</text>
<text transform="matrix(0.955 0 0 1.000 393.16 680.31)" font-size="16.53">3</text>
<text x="402.63" y="680.31" font-size="16.53">.</text>
<text x="407.85" y="680.31" font-size="16.53">0</text>
<text transform="matrix(0.850 0 0 1.000 418.44 680.31)" font-size="16.53">)</text>
<text x="428.61" y="680.31" font-size="16.53">[</text>
<text x="434.66" y="680.31" font-size="16.53">e</text>
<text transform="matrix(0.958 0 0 1.000 444.17 680.31)" font-size="16.53">V</text>
<text transform="matrix(1.075 0 0 1.000 459.98 680.31)" font-size="16.53">m</text>
<text transform="matrix(1.216 0 0 1.099 475.55 675.14)" font-size="11.57">−</text>
<text transform="matrix(0.950 0 0 1.000 484.6 674.34)" font-size="11.57">1</text>
<text transform="matrix(0.850 0 0 1.000 475.31 684.57)" font-size="11.57">P</text>
<text x="493" y="680.31" font-size="16.53">]</text>
<g transform="translate(197.9,537.12) rotate(-90)"><text x="0.77" y="0" font-size="16.26" font-style="italic">λ</text>
<text transform="matrix(0.850 0 0 1.000 9.97 2.52)" font-size="11.39">P</text>
<text x="21.72" y="0" font-size="16.26">[</text>
<text transform="matrix(0.947 0 0 1.000 27.72 0)" font-size="16.26">c</text>
<text transform="matrix(1.055 0 0 1.000 36.2 0)" font-size="16.26">k</text>
<text x="45.17" y="0" font-size="16.26">p</text>
<text transform="matrix(0.947 0 0 1.000 54.79 0)" font-size="16.26">c</text>
<text x="64.4" y="0" font-size="16.26">]</text></g></g>
</svg></body></html>
